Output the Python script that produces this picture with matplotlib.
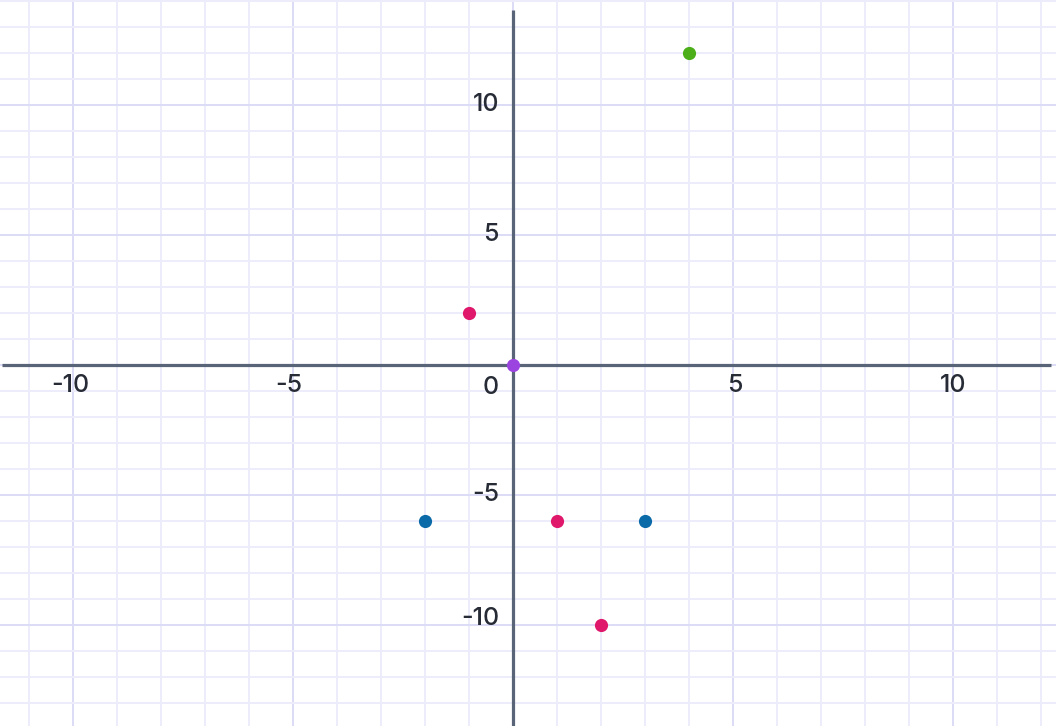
import matplotlib
matplotlib.use("Agg")
import matplotlib.pyplot as plt
import numpy as np

plt.rcParams['font.family'] = ['Inter', 'DejaVu Sans']

# Data
pink_x = [-1, 1, 2]
pink_y = [2, -6, -10]
blue_x = [-2, 3]
blue_y = [-6, -6]
green_x = [4]
green_y = [12]
purple_x = [0]
purple_y = [0]
x_ticks = [-10, -5, 5, 10]
y_ticks = [-10, -5, 5, 10]

xmin, xmax = -11.66, 12.34
ymin, ymax = -13.88, 14.04

fig = plt.figure(figsize=(10.56, 7.26), dpi=100)
ax = fig.add_axes([0, 0, 1, 1])
ax.set_xlim(xmin, xmax)
ax.set_ylim(ymin, ymax)
ax.axis('off')

minor_c = '#ececfa'
major_c = '#dcdcf6'
for xv in range(-11, 13):
    c = major_c if xv % 5 == 0 else minor_c
    ax.axvline(xv, color=c, lw=1.4, zorder=0)
for yv in range(-13, 15):
    c = major_c if yv % 5 == 0 else minor_c
    ax.axhline(yv, color=c, lw=1.4, zorder=0)

axis_c = '#5a6478'
ax.plot([-11.62, 12.22], [0, 0], color=axis_c, lw=2.3, zorder=1, solid_capstyle='butt')
ax.plot([0, 0], [ymin, 13.65], color=axis_c, lw=2.3, zorder=1, solid_capstyle='butt')

txt_c = '#262b35'
fs = 18
fw = 'medium'
x_dx = {-10: -0.07, -5: -0.1, 5: 0.04, 10: 0.0}
for t in x_ticks:
    ax.text(t + x_dx[t], -0.8, str(t), ha='center', va='center', fontsize=fs,
            color=txt_c, fontweight=fw)
ax.text(-0.5, -0.85, '0', ha='center', va='center', fontsize=fs, color=txt_c, fontweight=fw)
y_dy = {-10: 0.27, -5: 0.04, 5: 0.04, 10: 0.04}
for t in y_ticks:
    ax.text(-0.32, t + y_dy[t], str(t), ha='right', va='center', fontsize=fs,
            color=txt_c, fontweight=fw)

ms = 9.5
ax.plot(pink_x, pink_y, 'o', color='#e0186c', ms=ms, mec='none', zorder=3)
ax.plot(blue_x, blue_y, 'o', color='#0b6aa8', ms=ms, mec='none', zorder=3)
ax.plot(green_x, green_y, 'o', color='#4caf1a', ms=ms, mec='none', zorder=3)
ax.plot(purple_x, purple_y, 'o', color='#9b44e0', ms=ms, mec='none', zorder=3)

fig.savefig('out.png', dpi=100)
